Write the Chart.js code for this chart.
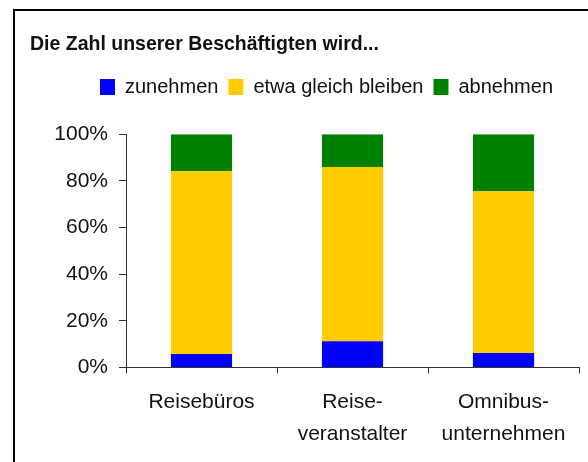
<!DOCTYPE html>
<html><head><meta charset="utf-8">
<script src="https://cdn.jsdelivr.net/npm/chart.js@4/dist/chart.umd.min.js"></script>
<style>
html,body{margin:0;padding:0;background:#fff;}
#wrap{position:relative;width:588px;height:462px;overflow:hidden;background:#fff;}
#frame{position:absolute;left:13px;top:9px;width:700px;height:600px;border-left:2px solid #000;border-top:2px solid #000;pointer-events:none;}
canvas{position:absolute;left:0;top:0;}
</style></head><body>
<div id="wrap"><canvas id="c" width="588" height="462"></canvas><div id="frame"></div></div>
<script>
const titleText = 'Die Zahl unserer Beschäftigten wird...';
const categories = ['Reisebüros', ['Reise-', 'veranstalter'], ['Omnibus-', 'unternehmen']];
const seriesNames = ['zunehmen', 'etwa gleich bleiben', 'abnehmen'];
const zunehmen = [5.8, 11.3, 6.2];
const gleichBleiben = [78.4, 74.6, 69.4];
const abnehmen = [15.8, 14.1, 24.4];
const yTickLabels = ['0%', '20%', '40%', '60%', '80%', '100%'];
const seriesColors = ['#0000FF', '#FFCC00', '#008000'];

const FONT = "'Liberation Sans', Arial, sans-serif";
const TEXT = '#111111';
const AXIS = '#333333';

const legendShift = {
  id: 'legendShift',
  afterLayout(chart) {
    const lg = chart.legend;
    if (lg) { lg.left += 22; lg.right += 22; }
  }
};

new Chart(document.getElementById('c'), {
  type: 'bar',
  data: {
    labels: categories,
    datasets: [
      { label: seriesNames[0], data: zunehmen, backgroundColor: seriesColors[0], borderWidth: 0 },
      { label: seriesNames[1], data: gleichBleiben, backgroundColor: seriesColors[1], borderWidth: 0 },
      { label: seriesNames[2], data: abnehmen, backgroundColor: seriesColors[2], borderWidth: 0 }
    ]
  },
  options: {
    responsive: false,
    animation: false,
    devicePixelRatio: 1,
    layout: { padding: { left: 30, right: 9, top: 0, bottom: 12.5 } },
    datasets: { bar: { categoryPercentage: 1, barPercentage: 0.405 } },
    plugins: {
      title: {
        display: true, text: titleText, align: 'start', color: TEXT,
        font: { family: FONT, size: 19.5, weight: 'bold' },
        padding: { top: 33, bottom: 10.6 }
      },
      subtitle: {
        display: true, text: ' ', weight: 500,
        font: { family: FONT, size: 1 },
        padding: { top: 26, bottom: 0 }
      },
      legend: {
        display: true, position: 'top', align: 'center',
        labels: { boxWidth: 15, boxHeight: 16, padding: 10, color: TEXT, font: { family: FONT, size: 20 } }
      },
      tooltip: { enabled: false }
    },
    scales: {
      x: {
        stacked: true,
        grid: { display: true, drawOnChartArea: false, drawTicks: true, tickLength: 6, color: AXIS, offset: true },
        border: { display: true, color: AXIS, width: 1 },
        ticks: { color: TEXT, padding: 13, maxRotation: 0, autoSkip: false, font: { family: FONT, size: 21, lineHeight: 1.5 } },
        afterFit(scale) { scale.height = 82; }
      },
      y: {
        stacked: true, min: 0, max: 100,
        grid: { display: true, drawOnChartArea: false, drawTicks: true, tickLength: 7, color: AXIS },
        border: { display: true, color: AXIS, width: 1 },
        ticks: { stepSize: 20, color: TEXT, padding: 11, font: { family: FONT, size: 21 },
          callback: (v, i) => yTickLabels[i] },
        afterFit(scale) { scale.width = 96; }
      }
    }
  },
  plugins: [legendShift]
});
</script>
</body></html>
